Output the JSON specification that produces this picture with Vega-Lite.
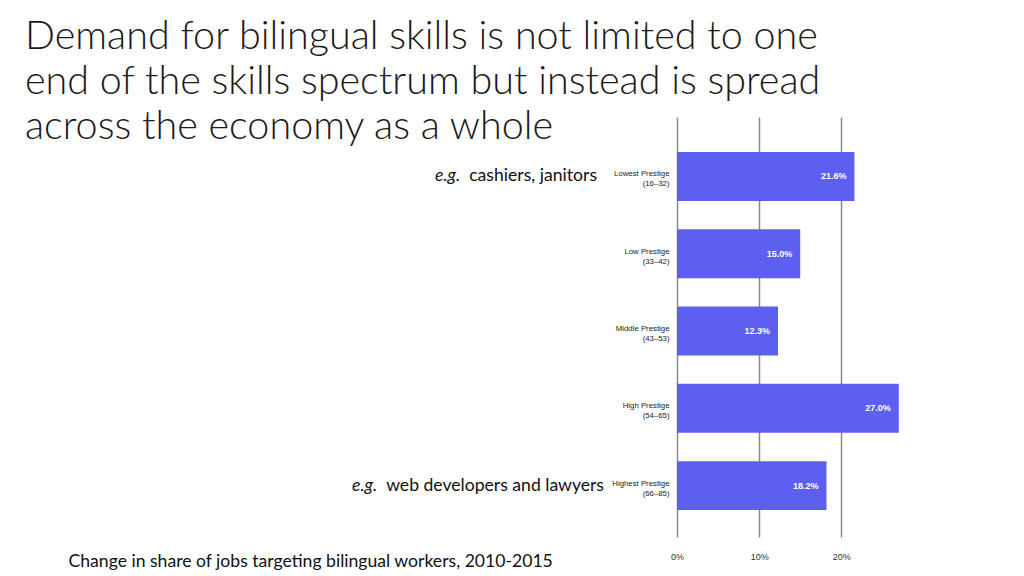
{
  "$schema": "https://vega.github.io/schema/vega-lite/v6.json",
  "width": 230,
  "height": 420,
  "autosize": "none",
  "padding": {"left": 677, "top": 117, "right": 117, "bottom": 39},
  "background": "white",
  "config": {"view": {"stroke": null}},
  "title": {
    "text": [
      "Demand for bilingual skills is not limited to one",
      "end of the skills spectrum but instead is spread",
      "across the economy as a whole"
    ],
    "anchor": "start",
    "frame": "group",
    "orient": "top",
    "baseline": "alphabetic",
    "offset": 70,
    "dx": -652,
    "dy": 131,
    "lineHeight": 45,
    "font": "Lato",
    "fontSize": 39.5,
    "fontWeight": 300,
    "color": "#1a1a1a"
  },
  "datasets": {
    "jobs": [
      {"group": "Lowest Prestige|(16–32)", "change": 21.6},
      {"group": "Low Prestige|(33–42)", "change": 15.0},
      {"group": "Middle Prestige|(43–53)", "change": 12.3},
      {"group": "High Prestige|(54–65)", "change": 27.0},
      {"group": "Highest Prestige|(66–85)", "change": 18.2}
    ]
  },
  "encoding": {
    "y": {
      "field": "group",
      "type": "nominal",
      "sort": null,
      "scale": {"paddingInner": 0.367, "paddingOuter": 0.4, "align": 0.565},
      "axis": {
        "title": null,
        "domain": false,
        "ticks": false,
        "grid": false,
        "labelExpr": "split(datum.label, '|')",
        "labelFont": "Liberation Sans",
        "labelFontSize": 7.8,
        "labelLineHeight": 10,
        "labelBaseline": "middle",
        "labelOffset": -2,
        "labelColor": "#1a1a1a",
        "labelPadding": 8
      }
    }
  },
  "layer": [
    {
      "data": {"name": "jobs"},
      "mark": {"type": "bar", "color": "#5c5fef"},
      "encoding": {
        "x": {
          "field": "change",
          "type": "quantitative",
          "scale": {"domain": [0, 28], "nice": false},
          "axis": {
            "values": [0, 10, 20],
            "labelExpr": "datum.value + '%'",
            "labelFlush": false,
            "domain": false,
            "ticks": false,
            "grid": true,
            "gridColor": "#8a8a8a",
            "gridWidth": 1.5,
            "labelFont": "Liberation Sans",
            "labelFontSize": 9,
            "labelColor": "#333333",
            "labelPadding": 15,
            "title": "Change in share of jobs targeting bilingual workers, 2010-2015",
            "titleFont": "Lato",
            "titleFontSize": 17.6,
            "titleFontWeight": "normal",
            "titleColor": "#111111",
            "titleAnchor": "start",
            "titleAlign": "left",
            "titleBaseline": "alphabetic",
            "titleX": -609,
            "titleY": 29
          }
        }
      }
    },
    {
      "data": {"name": "jobs"},
      "transform": [{"calculate": "format(datum.change, '.1f') + '%'", "as": "label"}],
      "mark": {
        "type": "text",
        "align": "right",
        "dx": -8,
        "color": "white",
        "font": "Liberation Sans",
        "fontWeight": "bold",
        "fontSize": 9
      },
      "encoding": {
        "x": {"field": "change", "type": "quantitative"},
        "text": {"field": "label"}
      }
    },
    {
      "data": {"values": [{"group": "Lowest Prestige|(16–32)", "note": "cashiers, janitors"}]},
      "mark": {"type": "text", "align": "right", "dx": -80, "font": "Lato", "fontSize": 17.6, "color": "#111111"},
      "encoding": {"x": {"value": 0}, "text": {"field": "note"}}
    },
    {
      "data": {"values": [{"group": "Lowest Prestige|(16–32)", "note": "e.g."}]},
      "mark": {"type": "text", "align": "left", "dx": -242, "font": "Lato", "fontSize": 17.6, "fontStyle": "italic", "color": "#111111"},
      "encoding": {"x": {"value": 0}, "text": {"field": "note"}}
    },
    {
      "data": {"values": [{"group": "Highest Prestige|(66–85)", "note": "web developers and lawyers"}]},
      "mark": {"type": "text", "align": "right", "dx": -73, "font": "Lato", "fontSize": 17.6, "color": "#111111"},
      "encoding": {"x": {"value": 0}, "text": {"field": "note"}}
    },
    {
      "data": {"values": [{"group": "Highest Prestige|(66–85)", "note": "e.g."}]},
      "mark": {"type": "text", "align": "left", "dx": -325, "font": "Lato", "fontSize": 17.6, "fontStyle": "italic", "color": "#111111"},
      "encoding": {"x": {"value": 0}, "text": {"field": "note"}}
    }
  ]
}
